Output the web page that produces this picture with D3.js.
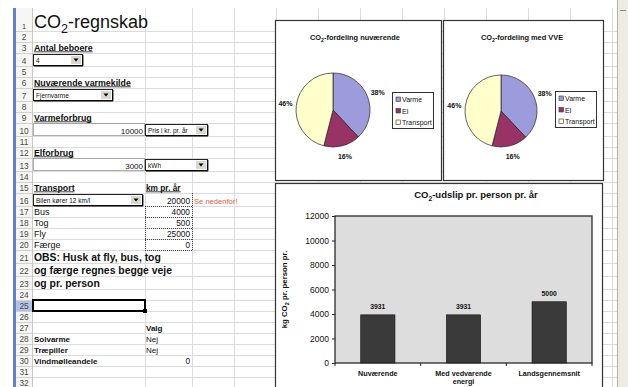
<!DOCTYPE html>
<html><head><meta charset="utf-8">
<script src="https://cdn.jsdelivr.net/npm/d3@7"></script>
<style>
html,body{margin:0;padding:0;background:#fff;}
svg{display:block;font-family:Arial,"Liberation Sans",sans-serif;}
</style></head><body>
<svg id="sheet" width="628" height="387"></svg>
<script>
// ---- values shown in the workbook ----
const pieCategories = ["Varme", "El", "Transport"];
const pieShareNow = [38, 16, 46];
const pieShareVVE = [38, 16, 46];
const pieColors = ["#9c9cdc", "#993366", "#ffffcc"];

const barCategories = ["Nuværende", "Med vedvarende energi", "Landsgennemsnit"];
const barValues = [3931, 3931, 5000];
const yTicks = [0, 2000, 4000, 6000, 8000, 10000, 12000];

const residents = "4";
const heatSource = "Fjernvarme";
const heatUse = 10000, heatUnit = "Pris i kr. pr. år";
const powerUse = 3000, powerUnit = "kWh";
const carChoice = "Bilen kører 12 km/l", carKm = 20000;
const transportModes = ["Bus", "Tog", "Fly", "Færge"];
const transportKm = [4000, 500, 25000, 0];
const noteLines = ["OBS: Husk at fly, bus, tog", "og færge regnes begge veje", "og pr. person"];
const choiceLabels = ["Solvarme", "Træpiller", "Vindmølleandele"];
const choiceValues = ["Nej", "Nej", "0"];

// ---- sheet geometry ----
const W = 628, H = 387;
const svg = d3.select("#sheet");
const rowCount = 32;
const tallRows = {1: 23, 4: 13, 7: 13, 10: 13, 13: 13, 16: 13, 21: 13, 22: 13, 23: 13, 25: 11};
const rowTop = {};
let yy = 8;
for (let r = 1; r <= rowCount; r++) { rowTop[r] = yy; yy += (tallRows[r] || 11); }
const rowH = r => tallRows[r] || 11;
const rowBot = r => rowTop[r] + rowH(r);
const colEdges = [32, 145, 192, 234, 276, 318, 360, 402, 444, 486, 528, 570, 612];
const colB = 145, colC = 192;

svg.append("rect").attr("width", W).attr("height", H).attr("fill", "#fff");

// grid
const grid = svg.append("g").attr("stroke", "#dcdcdc").attr("stroke-width", 1).attr("shape-rendering", "crispEdges");
for (let r = 1; r <= rowCount; r++) {
  grid.append("line").attr("x1", 16).attr("x2", 617).attr("y1", rowBot(r) + 0.5).attr("y2", rowBot(r) + 0.5);
}
colEdges.forEach(x => grid.append("line").attr("x1", x + 0.5).attr("x2", x + 0.5).attr("y1", 8).attr("y2", H));

// row headers
svg.append("rect").attr("x", 16).attr("y", 8).attr("width", 16).attr("height", H - 8).attr("fill", "#f6f6f2");
svg.append("rect").attr("x", 16).attr("y", rowTop[25]).attr("width", 16).attr("height", rowH(25)).attr("fill", "#b4c2e8");
const rh = svg.append("g").attr("shape-rendering", "crispEdges").attr("stroke", "#d2d2cc");
for (let r = 1; r <= rowCount; r++) {
  rh.append("line").attr("x1", 16).attr("x2", 32).attr("y1", rowBot(r) + 0.5).attr("y2", rowBot(r) + 0.5);
}
svg.append("line").attr("x1", 32.5).attr("x2", 32.5).attr("y1", 8).attr("y2", H).attr("stroke", "#c8c8c0");
for (let r = 1; r <= rowCount; r++) {
  svg.append("text").attr("x", 24).attr("y", rowBot(r) - 2.5).attr("text-anchor", "middle")
    .attr("font-size", r === 1 ? 7.5 : 8.3).attr("fill", "#4a4a4a").text(r);
}
svg.append("rect").attr("x", 13).attr("y", 8).attr("width", 3).attr("height", H - 8).attr("fill", "#6282cc");

// ---- helpers ----
function subText(g, parts, fs) {
  // parts: [before, subscript, after]
  g.append("tspan").text(parts[0]);
  g.append("tspan").attr("dy", fs * 0.3).attr("font-size", fs * 0.7).text(parts[1]);
  g.append("tspan").attr("dy", -fs * 0.3).text(parts[2]);
  return g;
}
function cellText(row, x, txt, opts = {}) {
  const t = svg.append("text").attr("x", x).attr("y", rowBot(row) - (opts.lift || 2.5))
    .attr("font-size", opts.size || 8.5).attr("font-weight", opts.bold ? "bold" : "normal")
    .attr("fill", opts.fill || "#111").attr("text-anchor", opts.anchor || "start").text(txt);
  if (opts.underline) {
    const w = t.node().getComputedTextLength();
    svg.append("line").attr("x1", x).attr("x2", x + w).attr("y1", rowBot(row) - 1.2).attr("y2", rowBot(row) - 1.2)
      .attr("stroke", "#111").attr("stroke-width", 0.8);
  }
  return t;
}
function dropdown(x0, x1, row, label) {
  const t = rowTop[row] + 1, h = rowH(row) - 1;
  svg.append("rect").attr("x", x0 + 0.5).attr("y", t + 0.5).attr("width", x1 - x0 - 1).attr("height", h - 1)
    .attr("fill", "#fff").attr("stroke", "#222").attr("stroke-width", 1);
  svg.append("line").attr("x1", x0 + 1).attr("x2", x1).attr("y1", t + h - 0.2).attr("y2", t + h - 0.2).attr("stroke", "#000").attr("stroke-width", 1.2);
  svg.append("line").attr("x1", x1 - 0.2).attr("x2", x1 - 0.2).attr("y1", t + 1).attr("y2", t + h).attr("stroke", "#000").attr("stroke-width", 1.2);
  const bx = x1 - 12;
  svg.append("rect").attr("x", bx).attr("y", t + 2).attr("width", 10).attr("height", h - 4).attr("fill", "#dcd8cf");
  const cy = t + h / 2;
  svg.append("path").attr("d", `M${bx + 2.5},${cy - 1.5}L${bx + 7.5},${cy - 1.5}L${bx + 5},${cy + 1.5}Z`).attr("fill", "#000");
  svg.append("text").attr("x", x0 + 3).attr("y", t + h - 3).attr("font-size", 6.5).attr("fill", "#111").text(label);
}

// ---- sheet content ----
subText(svg.append("text").attr("x", 34).attr("y", 28).attr("font-size", 18).attr("fill", "#111"), ["CO", "2", "-regnskab"], 18);

cellText(3, 34, "Antal beboere", {bold: true, size: 8.8, underline: true});
dropdown(33, 83, 4, residents);
cellText(6, 34, "Nuværende varmekilde", {bold: true, size: 8.8, underline: true});
dropdown(33, 113, 7, heatSource);
cellText(9, 34, "Varmeforbrug", {bold: true, size: 8.8, underline: true});
svg.append("rect").attr("x", 33.5).attr("y", rowTop[10] + 0.5).attr("width", 111).attr("height", rowH(10) - 1).attr("fill", "none").attr("stroke", "#9a9a9a").attr("stroke-width", 0.8);
cellText(10, 143, heatUse, {anchor: "end", size: 8});
dropdown(145, 208, 10, heatUnit);
cellText(12, 34, "Elforbrug", {bold: true, size: 8.8, underline: true});
svg.append("rect").attr("x", 33.5).attr("y", rowTop[13] + 0.5).attr("width", 111).attr("height", rowH(13) - 1).attr("fill", "none").attr("stroke", "#9a9a9a").attr("stroke-width", 0.8);
cellText(13, 143, powerUse, {anchor: "end", size: 8});
dropdown(145, 208, 13, powerUnit);
cellText(15, 34, "Transport", {bold: true, size: 8.8, underline: true});
cellText(15, 146, "km pr. år", {bold: true, size: 8.3, underline: true});
dropdown(33, 143, 16, carChoice);

// dotted box around the km column
const kmBox = svg.append("g").attr("stroke", "#222").attr("stroke-width", 0.8).attr("stroke-dasharray", "1,1").attr("fill", "none");
kmBox.append("line").attr("x1", colC + 0.5).attr("x2", colC + 0.5).attr("y1", rowTop[16]).attr("y2", rowBot(20));
kmBox.append("line").attr("x1", colB + 0.5).attr("x2", colB + 0.5).attr("y1", rowTop[17]).attr("y2", rowBot(20));
for (let r = 16; r <= 20; r++) kmBox.append("line").attr("x1", colB).attr("x2", colC).attr("y1", rowBot(r) + 0.5).attr("y2", rowBot(r) + 0.5);
cellText(16, 190, carKm, {anchor: "end", size: 8.3});
cellText(16, 194, "Se nedenfor!", {size: 7.6, fill: "#e0603c"});
transportModes.forEach((m, i) => {
  cellText(17 + i, 34, m, {size: 9});
  cellText(17 + i, 190, transportKm[i], {anchor: "end", size: 8.3});
});
noteLines.forEach((l, i) => cellText(21 + i, 34, l, {bold: true, size: 10.4, lift: 2.5}));

// selected cell
svg.append("rect").attr("x", 33).attr("y", rowTop[25]).attr("width", 112).attr("height", rowH(25)).attr("fill", "none").attr("stroke", "#000").attr("stroke-width", 2);
svg.append("rect").attr("x", 143).attr("y", rowBot(25) - 2).attr("width", 4).attr("height", 4).attr("fill", "#000");

cellText(27, 146, "Valg", {bold: true, size: 8});
choiceLabels.forEach((l, i) => {
  cellText(28 + i, 34, l, {bold: true, size: 8});
  if (choiceValues[i] === "0") cellText(28 + i, 190, choiceValues[i], {anchor: "end", size: 8.3});
  else cellText(28 + i, 146, choiceValues[i], {size: 8});
});

// ---- pie charts ----
function drawPie(cfg, values) {
  const g = svg.append("g");
  g.append("rect").attr("x", cfg.box[0] + 0.5).attr("y", cfg.box[1] + 0.5).attr("width", cfg.box[2] - cfg.box[0]).attr("height", cfg.box[3] - cfg.box[1])
    .attr("fill", "#fff").attr("stroke", "#333").attr("stroke-width", 1.2);
  subText(g.append("text").attr("x", cfg.titleX).attr("y", 40).attr("text-anchor", "middle").attr("font-size", 7.4).attr("font-weight", "bold").attr("fill", "#111"), cfg.title, 7.4);
  const arcs = d3.pie().sort(null).value(d => d)(values);
  const arc = d3.arc().innerRadius(0).outerRadius(cfg.r);
  const labelArc = d3.arc().innerRadius(cfg.r + 11).outerRadius(cfg.r + 11);
  const pg = g.append("g").attr("transform", `translate(${cfg.cx},${cfg.cy})`);
  pg.selectAll("path").data(arcs).join("path").attr("d", arc)
    .attr("fill", (d, i) => pieColors[i]).attr("stroke", "#222").attr("stroke-width", 0.7);
  pg.selectAll("text").data(arcs).join("text")
    .attr("transform", d => `translate(${labelArc.centroid(d)})`).attr("dy", "0.35em")
    .attr("text-anchor", "middle").attr("font-size", 7).attr("font-weight", "bold").attr("fill", "#111")
    .text(d => d.data + "%");
  const lg = g.append("g").attr("transform", `translate(${cfg.legend[0]},${cfg.legend[1]})`);
  lg.append("rect").attr("x", 0.5).attr("y", 0.5).attr("width", cfg.legend[2]).attr("height", 36)
    .attr("fill", "#fff").attr("stroke", "#333").attr("stroke-width", 1);
  pieCategories.forEach((c, i) => {
    lg.append("rect").attr("x", 4).attr("y", 5 + i * 11.5).attr("width", 4.5).attr("height", 4.5)
      .attr("fill", pieColors[i]).attr("stroke", "#333").attr("stroke-width", 0.6);
    lg.append("text").attr("x", 10).attr("y", 10 + i * 11.5).attr("font-size", 7).attr("fill", "#111").text(c);
  });
}
drawPie({box: [275, 20, 441, 180], title: ["CO", "2", "-fordeling nuværende"], titleX: 355, cx: 333, cy: 110, r: 37, legend: [392, 92, 41]}, pieShareNow);
drawPie({box: [443, 20, 603, 180], title: ["CO", "2", "-fordeling med VVE"], titleX: 522, cx: 501, cy: 111, r: 36, legend: [555, 91, 41]}, pieShareVVE);

// ---- bar chart ----
const bg = svg.append("g");
bg.append("rect").attr("x", 275.5).attr("y", 183.5).attr("width", 327).attr("height", 220)
  .attr("fill", "#fff").attr("stroke", "#333").attr("stroke-width", 1.2);
subText(bg.append("text").attr("x", 476).attr("y", 198).attr("text-anchor", "middle").attr("font-size", 9.5).attr("font-weight", "bold").attr("fill", "#111"),
  ["CO", "2", "-udslip pr. person pr. år"], 9.5);
const plot = {x0: 335, x1: 592, y0: 216, y1: 363};
const x = d3.scaleBand().domain(barCategories).range([plot.x0, plot.x1]).paddingInner(0.6).paddingOuter(0.3);
const y = d3.scaleLinear().domain([0, 12000]).range([plot.y1, plot.y0]);
bg.append("rect").attr("x", plot.x0).attr("y", plot.y0).attr("width", plot.x1 - plot.x0).attr("height", plot.y1 - plot.y0)
  .attr("fill", "#dddddd").attr("stroke", "#2a2a2a").attr("stroke-width", 1.3);
bg.selectAll("rect.bar").data(barValues).join("rect").attr("class", "bar")
  .attr("x", (d, i) => x(barCategories[i])).attr("width", x.bandwidth())
  .attr("y", d => y(d)).attr("height", d => y(0) - y(d))
  .attr("fill", "#3a3a3a").attr("stroke", "#111").attr("stroke-width", 0.6);
bg.selectAll("text.val").data(barValues).join("text").attr("class", "val")
  .attr("x", (d, i) => x(barCategories[i]) + x.bandwidth() / 2).attr("y", d => y(d) - 6)
  .attr("text-anchor", "middle").attr("font-size", 6.8).attr("font-weight", "bold").attr("fill", "#111").text(d => d);

const yAxis = bg.append("g").attr("transform", `translate(${plot.x0},0)`)
  .call(d3.axisLeft(y).tickValues(yTicks).tickSize(3).tickPadding(3).tickFormat(d3.format("d")));
yAxis.select(".domain").remove();
yAxis.selectAll("line").attr("stroke", "#222");
yAxis.selectAll("text").attr("font-size", 8.5).attr("fill", "#111").attr("font-family", "Arial, 'Liberation Sans', sans-serif");

// category boundaries as tick marks, labels under each bar
const step = (plot.x1 - plot.x0) / barCategories.length;
d3.range(barCategories.length + 1).forEach(i => {
  const bx = plot.x0 + i * step;
  bg.append("line").attr("x1", bx).attr("x2", bx).attr("y1", plot.y1).attr("y2", plot.y1 + 3).attr("stroke", "#222");
});
const xAxis = bg.append("g").attr("transform", `translate(0,${plot.y1})`)
  .call(d3.axisBottom(x).tickSize(0).tickPadding(8));
xAxis.select(".domain").remove();
xAxis.selectAll("text").attr("font-size", 7.2).attr("font-weight", "bold").attr("fill", "#111")
  .attr("font-family", "Arial, 'Liberation Sans', sans-serif")
  .each(function (d) {
    const t = d3.select(this);
    const words = d.split(" ");
    if (words.length > 2) {
      t.text(null);
      t.append("tspan").attr("x", 0).text(words.slice(0, 2).join(" "));
      t.append("tspan").attr("x", 0).attr("dy", "1.1em").text(words.slice(2).join(" "));
    }
  });

const yt = bg.append("text").attr("transform", `translate(287,${(plot.y0 + plot.y1) / 2}) rotate(-90)`)
  .attr("text-anchor", "middle").attr("font-size", 7.8).attr("font-weight", "bold").attr("fill", "#111");
subText(yt, ["kg CO", "2", " pr. person pr."], 7.8);

// ---- right scrollbar ----
svg.append("rect").attr("x", 617).attr("y", 0).attr("width", 11).attr("height", H).attr("fill", "#eeede4");
svg.append("line").attr("x1", 617.5).attr("x2", 617.5).attr("y1", 0).attr("y2", H).attr("stroke", "#b0b0a8");
svg.append("line").attr("x1", 620).attr("x2", 626).attr("y1", 10.5).attr("y2", 10.5).attr("stroke", "#888");
</script>
</body></html>
